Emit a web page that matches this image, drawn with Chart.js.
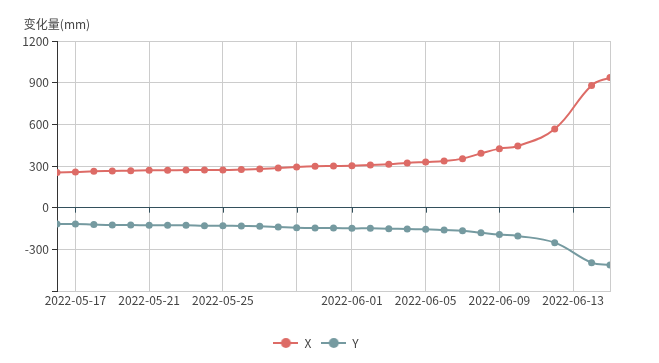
<!DOCTYPE html>
<html>
<head>
<meta charset="utf-8">
<script src="https://cdn.jsdelivr.net/npm/chart.js@4/dist/chart.umd.min.js"></script>
<style>
html,body{margin:0;padding:0;background:#fff;}
#wrap{width:659px;height:363px;position:relative;}
</style>
</head>
<body>
<div id="wrap"><canvas id="c" width="659" height="363"></canvas></div>
<script>
const dates = ['2022-05-16','2022-05-17','2022-05-18','2022-05-19','2022-05-20','2022-05-21','2022-05-22','2022-05-23','2022-05-24','2022-05-25','2022-05-26','2022-05-27','2022-05-28','2022-05-29','2022-05-30','2022-05-31','2022-06-01','2022-06-02','2022-06-03','2022-06-04','2022-06-05','2022-06-06','2022-06-07','2022-06-08','2022-06-09','2022-06-10','2022-06-12','2022-06-14','2022-06-15'];
const seriesX = [254,257,262,264,266,269,269,271,271,271,274,278,286,293,298,300,302,307,312,322,329,336,353,391,425,444,566,880,938];
const seriesY = [-118,-118,-122,-125,-125,-127,-127,-127,-130,-130,-132,-134,-139,-144,-146,-146,-149,-149,-151,-154,-156,-161,-166,-180,-194,-204,-252,-396,-413];
const tickDates = ['2022-05-17','2022-05-21','2022-05-25','2022-05-29','2022-06-01','2022-06-05','2022-06-09','2022-06-13'];
const tickLabels = ['2022-05-17','2022-05-21','2022-05-25','','2022-06-01','2022-06-05','2022-06-09','2022-06-13'];
const yTicks = [-600,-300,0,300,600,900,1200];
const yTickLabels = ['','-300','0','300','600','900','1200'];
const axisName = '变化量(mm)';

const COLOR_X = '#dd6b66', COLOR_Y = '#759aa0';
const FONT = "'Noto Sans CJK SC', 'Noto Sans', sans-serif";
const dayNum = s => Date.UTC(+s.slice(0,4), +s.slice(5,7)-1, +s.slice(8,10)) / 86400000;
const xMin = dayNum(dates[0]), xMax = dayNum(dates[dates.length-1]);

function legendIcon(color){
  const cv = document.createElement('canvas');
  cv.width = 25; cv.height = 14;
  const c = cv.getContext('2d');
  c.strokeStyle = color; c.lineWidth = 2;
  c.beginPath(); c.moveTo(0,7); c.lineTo(25,7); c.stroke();
  c.fillStyle = color;
  c.beginPath(); c.arc(12.5,7,5,0,Math.PI*2); c.fill();
  return cv;
}

const extras = {
  id: 'extras',
  afterLayout(chart){
    const lg = chart.legend;
    if (lg) { lg.left += 11; lg.right += 11; }
  },
  beforeDatasetsDraw(chart){
    const {ctx, scales:{x, y}} = chart;
    const y0 = y.getPixelForValue(0);
    ctx.save();
    ctx.strokeStyle = '#33505c';
    ctx.lineWidth = 1;
    x.ticks.forEach(t => {
      if (t.value >= xMax) return;
      const px = Math.round(x.getPixelForValue(t.value)) + 0.5;
      ctx.beginPath(); ctx.moveTo(px, y0); ctx.lineTo(px, y0 + 5); ctx.stroke();
    });
    ctx.restore();
  },
  afterDraw(chart){
    const {ctx, chartArea} = chart;
    ctx.save();
    ctx.font = '12px ' + FONT;
    ctx.fillStyle = '#444';
    ctx.textAlign = 'center';
    ctx.textBaseline = 'middle';
    ctx.fillText(axisName, chartArea.left, chartArea.top - 17);
    ctx.restore();
  }
};

new Chart(document.getElementById('c'), {
  type: 'line',
  data: {
    datasets: [
      { label: 'X', data: dates.map((d,i)=>({x: dayNum(d), y: seriesX[i]})), borderColor: COLOR_X, backgroundColor: COLOR_X },
      { label: 'Y', data: dates.map((d,i)=>({x: dayNum(d), y: seriesY[i]})), borderColor: COLOR_Y, backgroundColor: COLOR_Y }
    ]
  },
  options: {
    responsive: false,
    animation: false,
    layout: { padding: { left: 0, right: 49, top: 41, bottom: 4 } },
    elements: {
      line: { tension: 0.4, borderWidth: 2 },
      point: { radius: 3.5, hoverRadius: 4, borderWidth: 0, pointStyle: 'circle' }
    },
    plugins: {
      legend: {
        position: 'bottom',
        labels: {
          usePointStyle: true,
          pointStyleWidth: 25,
          boxHeight: 12,
          color: '#444',
          font: { size: 12, family: FONT },
          padding: 10,
          generateLabels(chart){
            return chart.data.datasets.map((ds,i)=>({
              text: ds.label, pointStyle: legendIcon(ds.borderColor),
              fillStyle: ds.borderColor, strokeStyle: ds.borderColor, lineWidth: 0,
              datasetIndex: i, hidden: false, fontColor: '#444'
            }));
          }
        }
      },
      tooltip: { enabled: false }
    },
    scales: {
      x: {
        type: 'linear',
        min: xMin, max: xMax,
        afterBuildTicks(scale){
          scale.ticks = tickDates.map(d => ({value: dayNum(d)})).concat([{value: xMax}]);
        },
        afterFit(scale){ scale.height = 36; },
        ticks: {
          autoSkip: false, maxRotation: 0, padding: 2,
          color: '#444', font: { size: 12, family: FONT },
          callback(v){ const i = tickDates.findIndex(d => dayNum(d) === v); return i >= 0 ? tickLabels[i] : ''; }
        },
        grid: { color: '#ccc', drawTicks: false },
        border: { color: '#ccc' }
      },
      y: {
        min: -600, max: 1200,
        afterBuildTicks(scale){ scale.ticks = yTicks.map(v => ({value: v})); },
        afterFit(scale){ scale.width = 57; },
        ticks: {
          padding: 3, color: '#444', font: { size: 12, family: FONT },
          callback(v){ const i = yTicks.indexOf(v); return i >= 0 ? yTickLabels[i] : ''; }
        },
        grid: {
          color: ctx => ctx.tick && ctx.tick.value === 0 ? '#33505c' : '#ccc',
          tickColor: '#333', tickLength: 5
        },
        border: { color: '#333' }
      }
    }
  },
  plugins: [extras]
});
</script>
</body>
</html>
